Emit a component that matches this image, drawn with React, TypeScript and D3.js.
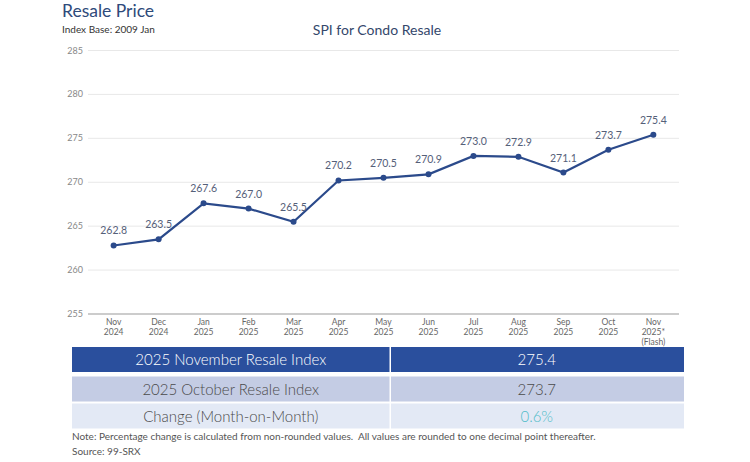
import { useEffect, useRef } from "react"
import * as d3 from "d3"

const months = ["Nov", "Dec", "Jan", "Feb", "Mar", "Apr", "May", "Jun", "Jul", "Aug", "Sep", "Oct", "Nov"]
const years = ["2024", "2024", "2025", "2025", "2025", "2025", "2025", "2025", "2025", "2025", "2025", "2025", "2025*"]
const spi = [262.8, 263.5, 267.6, 267.0, 265.5, 270.2, 270.5, 270.9, 273.0, 272.9, 271.1, 273.7, 275.4]
const yTicks = [255, 260, 265, 270, 275, 280, 285]

const tableLabels = ["2025 November Resale Index", "2025 October Resale Index", "Change (Month-on-Month)"]
const tableValues = ["275.4", "273.7", "0.6%"]

const FONT = "Lato, 'Noto Sans', sans-serif"

export default function App() {
  const svgRef = useRef<SVGSVGElement>(null)

  useEffect(() => {
    if (!svgRef.current) return
    const svg = d3.select(svgRef.current)
    svg.selectAll("*").remove()

    const W = 750
    const H = 462
    svg.attr("width", W).attr("height", H).style("font-family", FONT)

    svg.append("rect").attr("width", W).attr("height", H).attr("fill", "#fff")

    // Titles
    svg.append("text").attr("x", 62).attr("y", 17).attr("font-size", 17.5).attr("fill", "#2e4a7a").text("Resale Price")
    svg.append("text").attr("x", 62).attr("y", 33).attr("font-size", 10).attr("fill", "#333").text("Index Base: 2009 Jan")
    svg
      .append("text")
      .attr("x", 377)
      .attr("y", 35)
      .attr("text-anchor", "middle")
      .attr("font-size", 14)
      .attr("fill", "#34476b")
      .text("SPI for Condo Resale")

    const left = 88
    const right = 679
    const idx = spi.map((_, i) => i)

    const x = d3.scalePoint<number>().domain(idx).range([left, right]).padding(0.57)
    const y = d3.scaleLinear().domain([255, 285]).range([314, 50.5])

    // Grid
    const grid = svg.append("g")
    grid
      .selectAll("line")
      .data(yTicks.filter((t) => t !== 255))
      .enter()
      .append("line")
      .attr("x1", left)
      .attr("x2", right)
      .attr("y1", (d) => y(d))
      .attr("y2", (d) => y(d))
      .attr("stroke", "#e8e8e8")
      .attr("stroke-width", 1)

    // Y tick labels
    svg
      .append("g")
      .selectAll("text")
      .data(yTicks)
      .enter()
      .append("text")
      .attr("x", 83)
      .attr("y", (d) => y(d) + 3)
      .attr("text-anchor", "end")
      .attr("font-size", 9)
      .attr("fill", "#888")
      .text((d) => d)

    // Baseline
    svg
      .append("line")
      .attr("x1", left)
      .attr("x2", right)
      .attr("y1", y(255))
      .attr("y2", y(255))
      .attr("stroke", "#999")
      .attr("stroke-width", 1)

    // X labels
    const xl = svg
      .append("g")
      .selectAll("text")
      .data(idx)
      .enter()
      .append("text")
      .attr("text-anchor", "middle")
      .attr("font-size", 8.5)
      .attr("fill", "#666")
    xl.append("tspan")
      .attr("x", (d) => x(d)!)
      .attr("y", 325)
      .text((d) => months[d])
    xl.append("tspan")
      .attr("x", (d) => x(d)!)
      .attr("y", 335)
      .text((d) => years[d])
    svg
      .append("text")
      .attr("x", x(12)!)
      .attr("y", 345)
      .attr("text-anchor", "middle")
      .attr("font-size", 8.5)
      .attr("fill", "#666")
      .text("(Flash)")

    // Line
    const line = d3
      .line<number>()
      .x((d, i) => x(i)!)
      .y((d) => y(d))
    svg
      .append("path")
      .datum(spi)
      .attr("fill", "none")
      .attr("stroke", "#2b4a8b")
      .attr("stroke-width", 2.2)
      .attr("d", line)

    svg
      .append("g")
      .selectAll("circle")
      .data(spi)
      .enter()
      .append("circle")
      .attr("cx", (d, i) => x(i)!)
      .attr("cy", (d) => y(d))
      .attr("r", 3)
      .attr("fill", "#2b4a8b")

    svg
      .append("g")
      .selectAll("text")
      .data(spi)
      .enter()
      .append("text")
      .attr("x", (d, i) => x(i)!)
      .attr("y", (d) => y(d) - 11)
      .attr("text-anchor", "middle")
      .attr("font-size", 10.5)
      .attr("fill", "#556079")
      .text((d) => d.toFixed(1))

    // Table
    const rowTop = [347, 376.5, 403.5]
    const rowH = 25
    const rowFill = ["#2a4f9d", "#c4cce4", "#e3e9f5"]
    const textFill = ["#fff", "#4a4a4a", "#4a4a4a"]
    const valueFill = ["#fff", "#4a4a4a", "#4fbcc8"]
    const tx0 = 72
    const tDiv = 389.5
    const tx1 = 684

    rowTop.forEach((top, r) => {
      svg.append("rect").attr("x", tx0).attr("y", top).attr("width", tDiv - tx0).attr("height", rowH).attr("fill", rowFill[r])
      svg
        .append("rect")
        .attr("x", tDiv + 1.5)
        .attr("y", top)
        .attr("width", tx1 - tDiv - 1.5)
        .attr("height", rowH)
        .attr("fill", rowFill[r])
      svg
        .append("text")
        .attr("x", (tx0 + tDiv) / 2)
        .attr("y", top + rowH / 2 + 5.5)
        .attr("text-anchor", "middle")
        .attr("font-size", 15)
        .attr("font-weight", 300)
        .attr("fill", textFill[r])
        .text(tableLabels[r])
      svg
        .append("text")
        .attr("x", (tDiv + tx1) / 2)
        .attr("y", top + rowH / 2 + 5.5)
        .attr("text-anchor", "middle")
        .attr("font-size", 15)
        .attr("font-weight", 300)
        .attr("fill", valueFill[r])
        .text(tableValues[r])
    })

    svg
      .append("text")
      .attr("x", 72)
      .attr("y", 440)
      .attr("font-size", 10)
      .attr("fill", "#555")
      .text("Note: Percentage change is calculated from non-rounded values.  All values are rounded to one decimal point thereafter.")
      .attr("xml:space", "preserve")
    svg.append("text").attr("x", 72).attr("y", 455).attr("font-size", 10).attr("fill", "#555").text("Source: 99-SRX")
  }, [])

  return <svg ref={svgRef} style={{ position: "absolute", left: 0, top: 0 }} />
}
